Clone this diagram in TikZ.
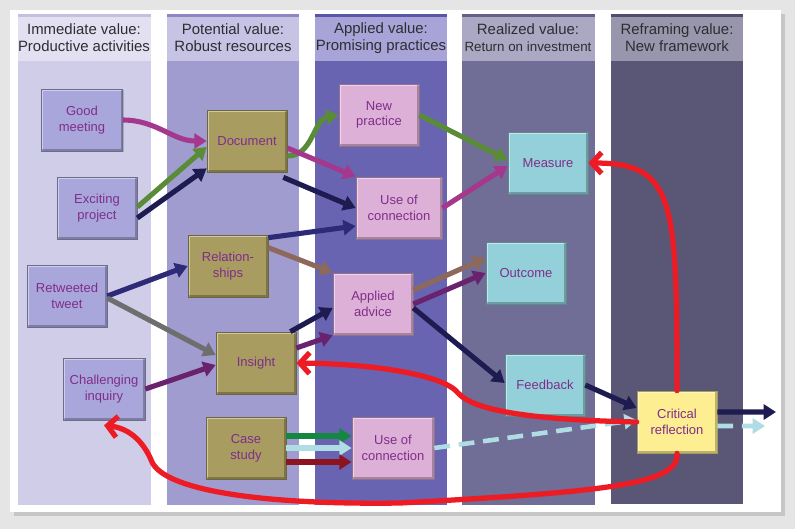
\documentclass[tikz,border=0pt]{standalone}
\usepackage{fontspec}
\setmainfont{Liberation Sans}
\usetikzlibrary{arrows.meta, shadows}
\usepackage{xcolor}
\definecolor{bggray}{RGB}{229, 229, 229}
\definecolor{cahead}{RGB}{226, 224, 241}
\definecolor{cabody}{RGB}{208, 205, 232}
\definecolor{catop}{RGB}{196, 193, 224}
\definecolor{cbhead}{RGB}{199, 195, 228}
\definecolor{cbbody}{RGB}{160, 156, 208}
\definecolor{cbtop}{RGB}{140, 135, 196}
\definecolor{cchead}{RGB}{168, 164, 216}
\definecolor{ccbody}{RGB}{104, 100, 178}
\definecolor{cctop}{RGB}{90, 86, 165}
\definecolor{cdhead}{RGB}{170, 168, 194}
\definecolor{cdbody}{RGB}{112, 109, 150}
\definecolor{cdtop}{RGB}{98, 95, 136}
\definecolor{cehead}{RGB}{152, 150, 172}
\definecolor{cebody}{RGB}{89, 86, 118}
\definecolor{cetop}{RGB}{80, 77, 108}
\definecolor{hdrtext}{RGB}{45, 45, 50}
\definecolor{boxtext}{RGB}{127, 46, 138}
\definecolor{actfill}{RGB}{169, 166, 219}
\definecolor{resfill}{RGB}{168, 156, 96}
\definecolor{pracfill}{RGB}{221, 176, 215}
\definecolor{roifill}{RGB}{148, 208, 217}
\definecolor{reffill}{RGB}{252, 238, 145}
\definecolor{magline}{RGB}{165, 55, 140}
\definecolor{grnline}{RGB}{90, 140, 55}
\definecolor{navyline}{RGB}{30, 27, 80}
\definecolor{blueline}{RGB}{45, 42, 120}
\definecolor{brnline}{RGB}{140, 105, 90}
\definecolor{grayline}{RGB}{110, 110, 110}
\definecolor{purpline}{RGB}{105, 35, 110}
\definecolor{casegrn}{RGB}{20, 135, 65}
\definecolor{cyanline}{RGB}{176, 221, 228}
\definecolor{darkred}{RGB}{140, 20, 30}
\definecolor{redline}{RGB}{237, 28, 36}

\begin{document}
\begin{tikzpicture}[
  x = 0.02cm, y = 0.02cm,
  every node/.style = {font=\fontsize{7.4}{8.9}\selectfont, text=boxtext},
  box/.style     = {rectangle, draw=#1!65!black, line width=0.4pt, fill=#1,
                    minimum width=1.6cm, minimum height=1.24cm, align=center,
                    inner sep=1pt,
                    drop shadow={shadow xshift=0.8pt, shadow yshift=-0.8pt, opacity=0.45},
                    path picture={
                      \draw[white, opacity=0.45, line width=2pt]
                        (path picture bounding box.south west) --
                        (path picture bounding box.north west) --
                        (path picture bounding box.north east);
                      \draw[black, opacity=0.25, line width=2pt]
                        (path picture bounding box.north east) --
                        (path picture bounding box.south east) --
                        (path picture bounding box.south west);}},
  hdr/.style     = {font=\fontsize{8.5}{9.7}\selectfont, text=hdrtext, align=center},
  arr/.style     = {-{Triangle[length=7pt,width=8.5pt]}, line width=2.9pt, draw=#1},
  dasharr/.style = {-{Triangle[length=7pt,width=8.5pt]}, line width=2.6pt,
                    draw=cyanline, dash pattern=on 9pt off 5pt},
  redarr/.style  = {-{Straight Barb[length=5.5pt,width=12pt]}, line width=3pt,
                    draw=redline, line cap=round, line join=round}
]
\useasboundingbox (0,0) rectangle (795,-529);
\fill[bggray] (0,0) rectangle (795,-529);
\fill[white, drop shadow={shadow xshift=2.5pt, shadow yshift=-2.5pt, opacity=0.3}]
  (10,-10) rectangle (781,-512);

% value columns
\fill[cabody] (18,-61) rectangle (151,-505);
\fill[cahead] (18,-14) rectangle (151,-61);
\fill[catop]  (18,-14) rectangle (151,-17);
\fill[cbbody] (167,-61) rectangle (299,-505);
\fill[cbhead] (167,-14) rectangle (299,-61);
\fill[cbtop]  (167,-14) rectangle (299,-17);
\fill[ccbody] (315,-61) rectangle (447,-505);
\fill[cchead] (315,-14) rectangle (447,-61);
\fill[cctop]  (315,-14) rectangle (447,-17);
\fill[cdbody] (462,-61) rectangle (595,-505);
\fill[cdhead] (462,-14) rectangle (595,-61);
\fill[cdtop]  (462,-14) rectangle (595,-17);
\fill[cebody] (611,-61) rectangle (743,-504);
\fill[cehead] (611,-14) rectangle (743,-61);
\fill[cetop]  (611,-14) rectangle (743,-17);

\node[hdr] (h_imm)  at (84,-38)  {Immediate value:\\Productive activities};
\node[hdr] (h_pot)  at (233,-38) {Potential value:\\Robust resources};
\node[hdr] (h_app)  at (381,-38) {Applied value:\\Promising practices};
\node[hdr] (h_real) at (528,-38) {Realized value:\\{\fontsize{7.6}{9.7}\selectfont Return on investment}};
\node[hdr] (h_ref)  at (677,-38) {Reframing value:\\New framework};

% productive activities
\node[box=actfill, minimum width=1.62cm] (good)  at (82,-120)  {Good\\meeting};
\node[box=actfill] (exc)   at (97,-208)  {Exciting\\project};
\node[box=actfill] (ret)   at (67,-296)  {Retweeted\\tweet};
\node[box=actfill, minimum width=1.64cm] (chall) at (104,-389) {Challenging\\inquiry};

% robust resources
\node[box=resfill] (doc)  at (247,-141) {Document};
\node[box=resfill] (rel)  at (228,-266) {Relation-\\ships};
\node[box=resfill] (ins)  at (256,-363) {Insight};
\node[box=resfill] (case) at (246,-448) {Case\\study};

% promising practices
\node[box=pracfill] (newp) at (379,-115) {New\\practice};
\node[box=pracfill, minimum width=1.72cm] (useA) at (399,-208) {Use of\\connection};
\node[box=pracfill] (appl) at (373,-304) {Applied\\advice};
\node[box=pracfill, minimum width=1.64cm] (useB) at (393,-448) {Use of\\connection};

% return on investment
\node[box=roifill] (meas) at (548,-163) {Measure};
\node[box=roifill] (outc) at (526,-273) {Outcome};
\node[box=roifill] (feed) at (545,-385) {Feedback};

% new framework
\node[box=reffill] (crit) at (677,-422) {Critical\\reflection};
\coordinate (outA) at (776,-412);
\coordinate (outB) at (765,-426);

\draw[arr=magline]  (good.east) to[out=0,in=180] (doc.west);
\draw[arr=grnline]  ([yshift=0.02cm]exc.east) -- ([yshift=-0.12cm]doc.west);
\draw[arr=navyline] ([yshift=-0.2cm]exc.east) -- ([yshift=0.08cm]doc.south west);
\draw[arr=grnline]  ([yshift=-0.3cm]doc.east) to[out=0,in=190] (newp.west);
\draw[arr=magline]  ([yshift=-0.14cm]doc.east) -- (useA.north west);
\draw[arr=navyline] ([shift={(-0.08cm,-0.1cm)}]doc.south east) -- (useA.west);
\draw[arr=blueline] ([yshift=-0.06cm]rel.north east) -- ([yshift=-0.36cm]useA.west);
\draw[arr=brnline]  ([yshift=-0.26cm]rel.north east) -- (appl.north west);
\draw[arr=blueline] (ret.east) -- (rel.west);
\draw[arr=grayline] ([yshift=-0.04cm]ret.east) -- ([yshift=0.16cm]ins.west);
\draw[arr=purpline] (chall.east) -- ([yshift=-0.04cm]ins.west);
\draw[arr=navyline] ([xshift=-0.12cm]ins.north east) -- ([yshift=-0.08cm]appl.west);
\draw[arr=purpline] ([yshift=0.3cm]ins.east) -- (appl.south west);
\draw[arr=grnline]  (newp.east) -- ([yshift=0.06cm]meas.west);
\draw[arr=magline]  (useA.east) -- ([yshift=-0.06cm]meas.west);
\draw[arr=brnline]  ([yshift=0.28cm]appl.east) -- ([yshift=0.3cm]outc.west);
\draw[arr=purpline] (appl.east) -- (outc.west);
\draw[arr=navyline] ([yshift=-0.08cm]appl.east) -- ([yshift=0.04cm]feed.west);
\draw[arr=navyline] (feed.east) -- ([yshift=0.28cm]crit.west);
\draw[arr=casegrn]  ([yshift=0.24cm]case.east) -- ([yshift=0.24cm]useB.west);
\draw[arr=cyanline] (case.east) -- (useB.west);
\draw[arr=darkred]  ([yshift=-0.28cm]case.east) -- ([yshift=-0.28cm]useB.west);
\draw[dasharr] (useB.east) -- ([yshift=0.04cm]crit.west);
\draw[arr=navyline] ([yshift=0.2cm]crit.east) -- (outA);
\draw[dasharr] ([yshift=-0.08cm]crit.east) -- (outB);

% reframing loops
\draw[redarr] (crit.north) .. controls (677,-200) and (675,-163) .. (meas.east);
\draw[redarr] (crit.west) .. controls (540,-420) and (475,-412) .. (458,-393)
  .. controls (445,-376) and (380,-364) .. (ins.east);
\draw[redarr] (crit.south) .. controls (680,-485) and (600,-492) .. (400,-503)
  .. controls (260,-505) and (165,-490) .. (152,-462)
  .. controls (143,-440) and (128,-428) .. ([yshift=-0.1cm]chall.south);
\end{tikzpicture}
\end{document}
